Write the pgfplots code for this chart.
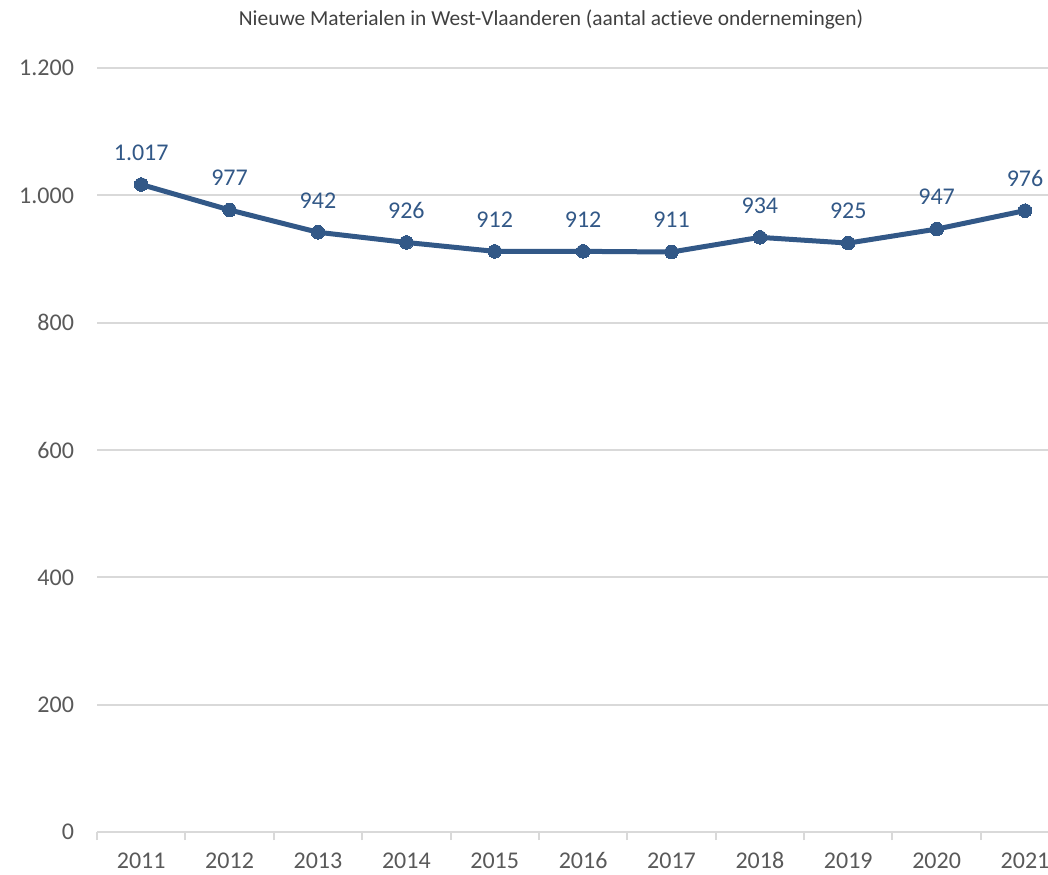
\documentclass[border=0pt]{standalone}
\usepackage{pgfplots}
\pgfplotsset{compat=1.18}
\usepackage{fontspec}
\setmainfont{Carlito}[Ligatures={NoCommon}]
\definecolor{lineblue}{RGB}{50,88,135}
\definecolor{ticklab}{RGB}{89,89,89}
\definecolor{gridc}{RGB}{217,217,217}
\definecolor{titlec}{RGB}{64,64,64}
\begin{document}
\begin{tikzpicture}
\useasboundingbox (0pt,0pt) rectangle (524pt,437pt);
\node[font=\fontsize{10.7}{12}\selectfont, text=titlec] at (275.5pt,427pt) {Nieuwe Materialen in West-Vlaanderen (aantal actieve ondernemingen)};
\begin{axis}[
  at={(48.5pt,21pt)}, anchor=south west,
  scale only axis,
  width=475.5pt, height=382pt,
  xmin=-0.5, xmax=10.26,
  ymin=0, ymax=1200,
  ytick={0,200,...,1200},
  xtick={0,...,10},
  xticklabels={2011,2012,2013,2014,2015,2016,2017,2018,2019,2020,2021},
  extra x ticks={-0.5,0.5,1.5,2.5,3.5,4.5,5.5,6.5,7.5,8.5,9.5},
  extra x tick labels={},
  extra x tick style={major tick length=4pt, tick align=outside, tick style={gridc, line width=1pt}, grid=none},
  major tick length=0pt,
  ymajorgrids,
  grid style={gridc, line width=1pt},
  axis x line*=bottom,
  axis y line*=left,
  y axis line style={draw=none},
  x axis line style={gridc, line width=1pt, -},
  tick label style={font=\fontsize{12}{14}\selectfont, text=ticklab},
  /pgf/number format/.cd, 1000 sep={.}, assume math mode=true,
  /pgfplots/.cd,
  yticklabel style={anchor=east, xshift=-8pt},
  xticklabel style={anchor=north, yshift=-6pt, text height=8.5pt, text depth=0pt},
  clip=false,
  point meta=y,
  nodes near coords={\pgfmathprintnumber[1000 sep={.},assume math mode=true]{\pgfplotspointmeta}},
  nodes near coords style={font=\fontsize{12}{14}\selectfont, text=lineblue, anchor=center, yshift=16pt},
]
\addplot[lineblue, line width=2.5pt, mark=*, mark size=3.4pt, mark options={fill=lineblue, draw=lineblue, line width=0pt}]
coordinates {(0,1017) (1,977) (2,942) (3,926) (4,912) (5,912) (6,911) (7,934) (8,925) (9,947) (10,976)};
\end{axis}
\end{tikzpicture}
\end{document}
